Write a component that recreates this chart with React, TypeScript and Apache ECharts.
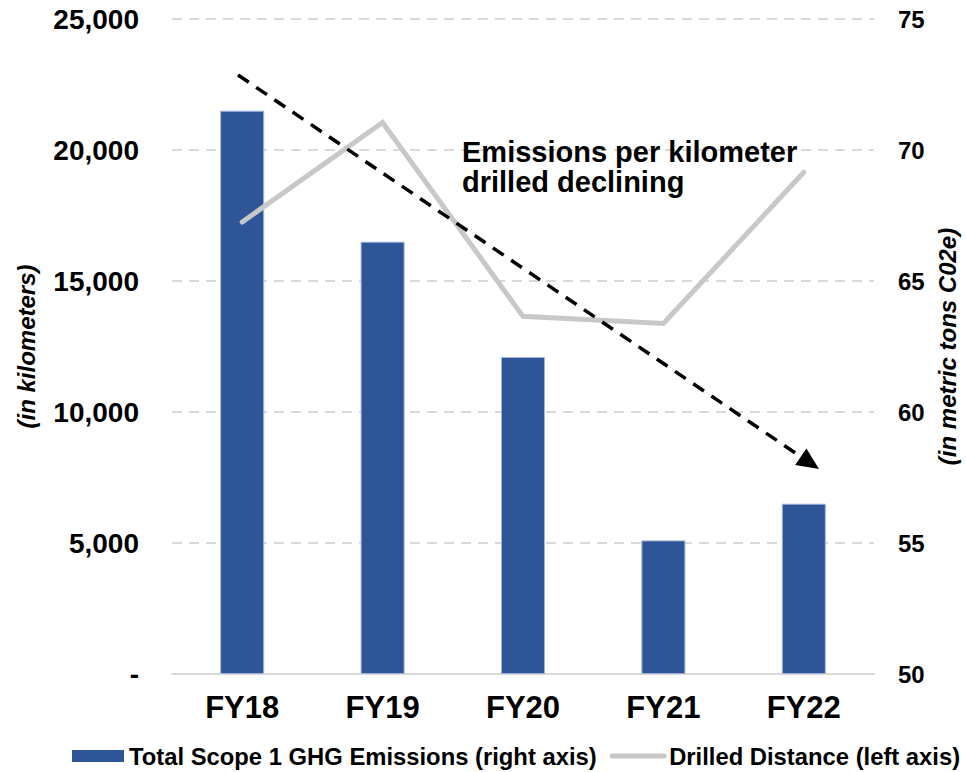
import React, { useEffect, useRef } from "react";
import * as echarts from "echarts";

const categories = ["FY18", "FY19", "FY20", "FY21", "FY22"];
const emissions = [71.5, 66.5, 62.1, 55.1, 56.5];
const drilledDistance = [17250, 21050, 13650, 13380, 19150];
const leftTicks = { min: 0, max: 25000, interval: 5000 };
const rightTicks = { min: 50, max: 75, interval: 5 };
const annotationLines = ["Emissions per kilometer", "drilled declining"];

const FONT = "'Liberation Sans', Arial, Helvetica, sans-serif";

export default function App() {
  const ref = useRef<HTMLDivElement>(null);
  useEffect(() => {
    if (!ref.current) return;
    const chart = echarts.init(ref.current, null, { renderer: "svg" });
    const ax = 238, ay = 75, tx = 819, ty = 469;
    const dx = tx - ax, dy = ty - ay;
    const len = Math.sqrt(dx * dx + dy * dy);
    const ux = dx / len, uy = dy / len;
    const headLen = 22, headHalf = 10;
    const bx = tx - ux * headLen, by = ty - uy * headLen;
    chart.setOption({
      animation: false,
      textStyle: { fontFamily: FONT },
      grid: { left: 172, right: 92, top: 19, bottom: 98, containLabel: false, outerBoundsMode: "none" },
      legend: {
        left: 72,
        top: 744,
        width: 920,
        padding: 0,
        itemWidth: 52,
        itemHeight: 12,
        itemGap: 13,
        textStyle: { fontSize: 23.8, fontWeight: "bold", color: "#000", fontFamily: FONT },
        data: [
          { name: "Total Scope 1 GHG Emissions (right axis)", icon: "rect", itemStyle: { borderWidth: 0 } },
          {
            name: "Drilled Distance (left axis)",
            itemStyle: { opacity: 0 },
            lineStyle: { width: 5, cap: "round", color: "#c8c8c8" },
          },
        ],
      },
      xAxis: {
        type: "category",
        data: categories,
        axisTick: { show: false },
        axisLine: { lineStyle: { color: "#d9d9d9", width: 2 } },
        axisLabel: { fontSize: 31, fontWeight: "bold", color: "#000", margin: 18, fontFamily: FONT },
      },
      yAxis: [
        {
          type: "value",
          min: leftTicks.min,
          max: leftTicks.max,
          interval: leftTicks.interval,
          name: "(in kilometers)",
          nameLocation: "middle",
          nameRotate: 90,
          nameGap: 134,
          nameTextStyle: { fontSize: 24, fontWeight: "bold", fontStyle: "italic", color: "#000", fontFamily: FONT },
          axisLine: { show: false },
          axisTick: { show: false },
          splitLine: { lineStyle: { color: "#d9d9d9", width: 2, type: [10, 7] } },
          axisLabel: {
            fontSize: 28,
            fontWeight: "bold",
            color: "#000",
            margin: 33,
            fontFamily: FONT,
            formatter: (v: number) => (v === 0 ? "-" : v.toLocaleString("en-US")),
          },
        },
        {
          type: "value",
          min: rightTicks.min,
          max: rightTicks.max,
          interval: rightTicks.interval,
          startValue: rightTicks.min,
          name: "(in metric tons C02e)",
          nameLocation: "middle",
          nameRotate: 90,
          nameGap: 61,
          nameTextStyle: { fontSize: 24, fontWeight: "bold", fontStyle: "italic", color: "#000", fontFamily: FONT },
          axisLine: { show: false },
          axisTick: { show: false },
          splitLine: { show: false },
          axisLabel: { fontSize: 24, fontWeight: "bold", color: "#000", margin: 24, fontFamily: FONT },
        },
      ],
      series: [
        {
          name: "Total Scope 1 GHG Emissions (right axis)",
          type: "bar",
          yAxisIndex: 1,
          data: emissions,
          barWidth: 44,
          clip: true,
          itemStyle: { color: "#2e5597", borderColor: "#9fb4da", borderWidth: 1 },
          z: 2,
        },
        {
          name: "Drilled Distance (left axis)",
          type: "line",
          yAxisIndex: 0,
          data: drilledDistance,
          showSymbol: false,
          symbol: "none",
          lineStyle: { color: "#c8c8c8", width: 5, cap: "round", join: "miter" },
          itemStyle: { color: "#c8c8c8" },
          z: 3,
        },
      ],
      graphic: [
        {
          type: "line",
          z: 10,
          shape: { x1: ax, y1: ay, x2: bx, y2: by },
          style: { stroke: "#000", lineWidth: 3.5, lineDash: [13, 9] },
        },
        {
          type: "polygon",
          z: 10,
          shape: {
            points: [
              [tx, ty],
              [bx - uy * headHalf, by + ux * headHalf],
              [bx + uy * headHalf, by - ux * headHalf],
            ],
          },
          style: { fill: "#000" },
        },
        {
          type: "text",
          z: 10,
          left: 462,
          top: 137,
          style: {
            text: annotationLines.join("\n"),
            font: `bold 29px ${FONT}`,
            lineHeight: 30,
            fill: "#000",
          },
        },
      ],
    });
    return () => chart.dispose();
  }, []);
  return <div ref={ref} style={{ width: 966, height: 772, position: "absolute", left: 0, top: 0 }} />;
}
